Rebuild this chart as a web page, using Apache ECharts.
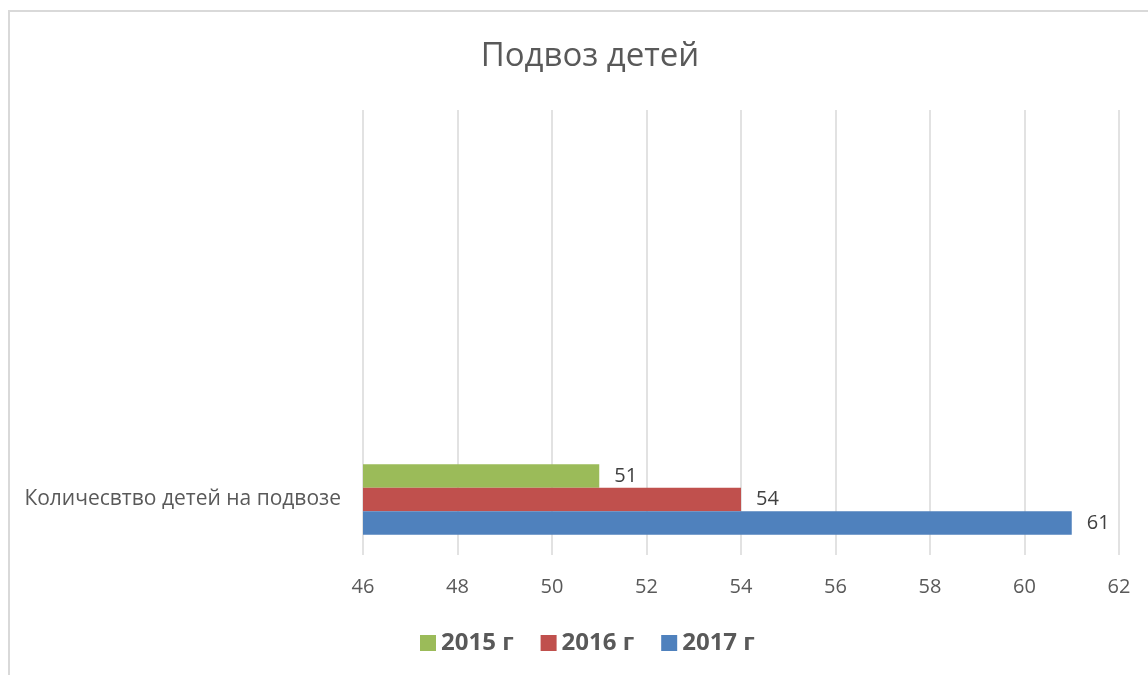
<!DOCTYPE html>
<html>
<head>
<meta charset="utf-8">
<title>Подвоз детей</title>
<script src="https://cdn.jsdelivr.net/npm/echarts@6/dist/echarts.min.js"></script>
<style>
    html, body { margin: 0; padding: 0; background: #fff; }
    #main { width: 1148px; height: 675px; }
</style>
</head>
<body>
<div id="main"></div>
<script>
// данные диаграммы
var categories = ['Количесвтво детей на подвозе', '', '', ''];
var years = ['2015 г', '2016 г', '2017 г'];
var colors = ['#9bbb59', '#c0504d', '#4f81bd'];
var data2015 = [51, null, null, null];
var data2016 = [54, null, null, null];
var data2017 = [61, null, null, null];
var xTicks = [46, 48, 50, 52, 54, 56, 58, 60, 62];

var myChart = echarts.init(document.getElementById('main'));
var font = '"Open Sans", "Noto Sans", sans-serif';

var seriesData = [data2015, data2016, data2017];
var series = [];
for (var i = 0; i < years.length; i++) {
    series.push({
        name: years[i],
        type: 'bar',
        data: seriesData[i],
        barWidth: 23.5,
        barGap: '0%',
        itemStyle: { color: colors[i] },
        label: {
            show: true,
            position: 'right',
            distance: 15,
            color: '#404040',
            fontSize: 20,
            fontFamily: font
        }
    });
}

var option = {
    backgroundColor: '#fff',
    title: {
        text: 'Подвоз детей',
        left: 585,
        textAlign: 'center',
        top: 35,
        textStyle: {
            color: '#595959',
            fontSize: 33,
            fontWeight: 'normal',
            fontFamily: font
        }
    },
    legend: {
        data: years,
        left: 415,
        top: 626,
        icon: 'rect',
        itemWidth: 16,
        itemHeight: 16,
        itemGap: 27,
        textStyle: {
            color: '#595959',
            fontSize: 24,
            fontWeight: 'bold',
            fontFamily: font
        }
    },
    grid: {
        left: 363,
        right: 29,
        top: 110,
        bottom: 120,
        containLabel: false
    },
    xAxis: {
        type: 'value',
        min: xTicks[0],
        max: xTicks[xTicks.length - 1],
        interval: 2,
        axisLine: { show: false },
        axisTick: { show: false },
        axisLabel: {
            margin: 22,
            color: '#595959',
            fontSize: 20,
            fontFamily: font
        },
        splitLine: { lineStyle: { color: '#d9d9d9', width: 1.5 } }
    },
    yAxis: {
        type: 'category',
        data: categories,
        axisLine: { show: false },
        axisTick: { show: false },
        axisLabel: {
            margin: 22,
            color: '#595959',
            fontSize: 21,
            fontFamily: font
        }
    },
    graphic: [{
        type: 'rect',
        shape: { x: 9, y: 11, width: 1300, height: 800 },
        style: { fill: 'none', stroke: '#d9d9d9', lineWidth: 2 },
        silent: true
    }],
    series: series
};

myChart.setOption(option);
</script>
</body>
</html>
